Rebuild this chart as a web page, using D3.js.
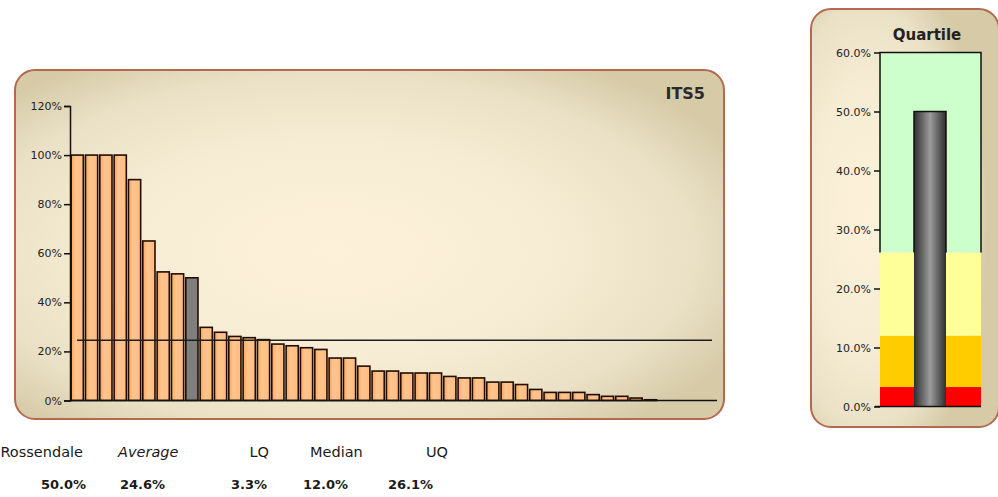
<!DOCTYPE html>
<html>
<head>
<meta charset="utf-8">
<script src="https://cdn.jsdelivr.net/npm/d3@7"></script>
<style>
  html, body { margin: 0; padding: 0; background: #ffffff; }
  svg { display: block; font-family: "DejaVu Sans", sans-serif; }
</style>
</head>
<body>
<svg id="chart" width="998" height="497"></svg>
<script>
// Authorities, ordered by ITS5 score (highest first)
const categories = [
  "LA01", "LA02", "LA03", "LA04", "LA05", "LA06", "LA07", "LA08", "Rossendale",
  "LA10", "LA11", "LA12", "LA13", "LA14", "LA15", "LA16", "LA17", "LA18",
  "LA19", "LA20", "LA21", "LA22", "LA23", "LA24", "LA25", "LA26", "LA27",
  "LA28", "LA29", "LA30", "LA31", "LA32", "LA33", "LA34", "LA35", "LA36",
  "LA37", "LA38", "LA39", "LA40", "LA41", "LA42", "LA43", "LA44", "LA45"
];
const values = [
  1.00, 1.00, 1.00, 1.00, 0.90, 0.65, 0.524, 0.516, 0.50,
  0.298, 0.278, 0.261, 0.256, 0.248, 0.230, 0.223, 0.215, 0.208,
  0.173, 0.173, 0.140, 0.120, 0.120, 0.112, 0.112, 0.112, 0.098,
  0.092, 0.092, 0.075, 0.075, 0.065, 0.045, 0.033, 0.033, 0.033,
  0.024, 0.017, 0.017, 0.010, 0.003, 0, 0, 0, 0
];
const highlight = "Rossendale";

// Summary figures shown under the chart
const summaryLabels = ["Rossendale", "Average", "LQ", "Median", "UQ"];
const summaryValues = [0.500, 0.246, 0.033, 0.120, 0.261];

// Axis ticks
const mainTicks = [0, 0.2, 0.4, 0.6, 0.8, 1.0, 1.2];
const quartileTicks = [0, 0.1, 0.2, 0.3, 0.4, 0.5, 0.6];

const svg = d3.select("#chart");
const defs = svg.append("defs");

// Panel background: pale cream centre fading to tan edges
function panelGradient(id, cx, cy) {
  const g = defs.append("radialGradient").attr("id", id)
    .attr("cx", cx).attr("cy", cy).attr("r", 0.64);
  g.append("stop").attr("offset", "0%").attr("stop-color", "#fdf1da");
  g.append("stop").attr("offset", "50%").attr("stop-color", "#f6ecd3");
  g.append("stop").attr("offset", "80%").attr("stop-color", "#e9e0c5");
  g.append("stop").attr("offset", "100%").attr("stop-color", "#d6caa7");
}
panelGradient("panelMain", 0.45, 0.52);
panelGradient("panelQuart", 0.3, 0.5);

// Bar fill: orange with a slightly darker left edge
const barGrad = defs.append("linearGradient").attr("id", "barFill")
  .attr("x1", 0).attr("x2", 1).attr("y1", 0).attr("y2", 0);
barGrad.append("stop").attr("offset", "0%").attr("stop-color", "#f7a55a");
barGrad.append("stop").attr("offset", "35%").attr("stop-color", "#ffc48e");
barGrad.append("stop").attr("offset", "100%").attr("stop-color", "#ffbd80");

// Cylinder shading for the quartile marker
const cylGrad = defs.append("linearGradient").attr("id", "cylFill")
  .attr("x1", 0).attr("x2", 1).attr("y1", 0).attr("y2", 0);
cylGrad.append("stop").attr("offset", "0%").attr("stop-color", "#2e2e2e");
cylGrad.append("stop").attr("offset", "50%").attr("stop-color", "#9c9c9c");
cylGrad.append("stop").attr("offset", "100%").attr("stop-color", "#2e2e2e");

// ---------- Main panel ----------
svg.append("rect")
  .attr("x", 15).attr("y", 70).attr("width", 709).attr("height", 349)
  .attr("rx", 20).attr("ry", 20)
  .attr("fill", "url(#panelMain)")
  .attr("stroke", "#b36a4e").attr("stroke-width", 2);

svg.append("text")
  .attr("x", 705).attr("y", 99)
  .attr("text-anchor", "end")
  .attr("font-size", 16).attr("font-weight", "bold")
  .attr("fill", "#2a2a2a")
  .text("ITS5");

const x = d3.scaleBand().domain(categories).range([69, 716]).padding(0.15);
const y = d3.scaleLinear().domain([0, 1.2]).range([400.5, 106]);

const bars = svg.append("g");
bars.selectAll("rect")
  .data(categories.map((c, i) => ({ c, v: values[i] })).filter(d => d.v > 0))
  .join("rect")
  .attr("x", d => x(d.c))
  .attr("y", d => y(d.v))
  .attr("width", x.bandwidth())
  .attr("height", d => y(0) - y(d.v))
  .attr("fill", d => d.c === highlight ? "#7f7f7f" : "url(#barFill)")
  .attr("stroke", "#220c00")
  .attr("stroke-width", 1.6);

// Average line
const avg = summaryValues[1];
svg.append("line")
  .attr("x1", 77).attr("x2", 712)
  .attr("y1", y(avg)).attr("y2", y(avg))
  .attr("stroke", "#1e1e1e").attr("stroke-width", 1.5);

// Y axis
const yAxis = svg.append("g")
  .attr("transform", "translate(70,0)")
  .call(d3.axisLeft(y).tickValues(mainTicks).tickFormat(d3.format(".0%")).tickSize(6).tickPadding(2));
yAxis.select(".domain").attr("stroke", "#111").attr("stroke-width", 1.5);
yAxis.selectAll(".tick line").attr("stroke", "#111").attr("stroke-width", 1.5);
yAxis.selectAll(".tick text")
  .attr("font-family", "DejaVu Sans, sans-serif")
  .attr("font-size", 11).attr("fill", "#222");

// X axis line
svg.append("line")
  .attr("x1", 70).attr("x2", 717)
  .attr("y1", y(0)).attr("y2", y(0))
  .attr("stroke", "#111").attr("stroke-width", 1.5);

// ---------- Quartile panel ----------
svg.append("rect")
  .attr("x", 811).attr("y", 9).attr("width", 188).attr("height", 418)
  .attr("rx", 20).attr("ry", 20)
  .attr("fill", "url(#panelQuart)")
  .attr("stroke", "#b36a4e").attr("stroke-width", 2);

svg.append("text")
  .attr("x", 927).attr("y", 40)
  .attr("text-anchor", "middle")
  .attr("font-size", 15).attr("font-weight", "bold")
  .attr("fill", "#222")
  .text("Quartile");

const qy = d3.scaleLinear().domain([0, 0.6]).range([406.5, 52.5]);
const qx0 = 880, qx1 = 981;
const lq = summaryValues[2], med = summaryValues[3], uq = summaryValues[4];
const bands = [
  { lo: 0, hi: lq, color: "#ff0000" },
  { lo: lq, hi: med, color: "#ffcc00" },
  { lo: med, hi: uq, color: "#ffff99" },
  { lo: uq, hi: 0.6, color: "#ccffcc" }
];
svg.append("g").selectAll("rect")
  .data(bands)
  .join("rect")
  .attr("x", qx0).attr("width", qx1 - qx0)
  .attr("y", d => qy(d.hi))
  .attr("height", d => qy(d.lo) - qy(d.hi))
  .attr("fill", d => d.color);

// Outline of the top band
svg.append("path")
  .attr("d", `M${qx0},${qy(uq)}V${qy(0.6)}H${qx1}V${qy(uq)}`)
  .attr("fill", "none").attr("stroke", "#111").attr("stroke-width", 1.5);

// Marker bar for the highlighted authority
const own = summaryValues[0];
const mx0 = 914, mx1 = 946;
svg.append("rect")
  .attr("x", mx0).attr("width", mx1 - mx0)
  .attr("y", qy(own)).attr("height", qy(0) - qy(own))
  .attr("fill", "url(#cylFill)");
svg.append("path")
  .attr("d", `M${mx0},${qy(uq)}V${qy(own)}H${mx1}V${qy(uq)}`)
  .attr("fill", "none").attr("stroke", "#111").attr("stroke-width", 1.5);

const qAxis = svg.append("g")
  .attr("transform", `translate(${qx0},0)`)
  .call(d3.axisLeft(qy).tickValues(quartileTicks).tickFormat(d3.format(".1%")).tickSize(6).tickPadding(3));
qAxis.select(".domain").remove();
qAxis.selectAll(".tick line").attr("stroke", "#111").attr("stroke-width", 1.5);
qAxis.selectAll(".tick text")
  .attr("font-family", "DejaVu Sans, sans-serif")
  .attr("font-size", 11).attr("fill", "#222");

svg.append("line")
  .attr("x1", qx0 - 5).attr("x2", qx1)
  .attr("y1", qy(0)).attr("y2", qy(0))
  .attr("stroke", "#111").attr("stroke-width", 1.5);

// ---------- Summary table ----------
const labelPos = [
  { x: 83, anchor: "end", italic: false },
  { x: 118, anchor: "start", italic: true },
  { x: 269, anchor: "end", italic: false },
  { x: 310, anchor: "start", italic: false },
  { x: 448, anchor: "end", italic: false }
];
const valueRight = [86, 165, 267, 348, 433];
const fmt = d3.format(".1%");

svg.append("g").selectAll("text")
  .data(summaryLabels)
  .join("text")
  .attr("x", (d, i) => labelPos[i].x)
  .attr("y", 457)
  .attr("text-anchor", (d, i) => labelPos[i].anchor)
  .attr("font-style", (d, i) => labelPos[i].italic ? "italic" : "normal")
  .attr("font-size", 14.5)
  .attr("fill", "#1a1a1a")
  .text(d => d);

svg.append("g").selectAll("text")
  .data(summaryValues)
  .join("text")
  .attr("x", (d, i) => valueRight[i])
  .attr("y", 489)
  .attr("text-anchor", "end")
  .attr("font-size", 13)
  .attr("font-weight", "bold")
  .attr("fill", "#1a1a1a")
  .text(d => fmt(d));
</script>
</body>
</html>
